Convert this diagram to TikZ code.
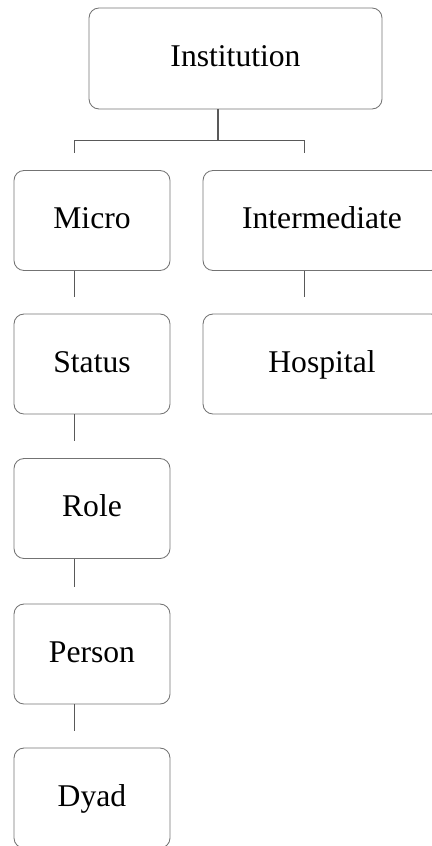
\documentclass[tikz,border=0pt]{standalone}
\usepackage{fontspec}
\setmainfont{Liberation Serif}
\usepackage{tikz}
\tikzset{level/.style={
	rectangle,
	rounded corners=2mm,
	draw=black!55,
	line width=0.5pt,
	minimum width=3.12cm,
	minimum height=2cm,
	text height=2.2ex,
	text depth=0.2ex,
	align=center,
	font=\fontsize{18}{20}\selectfont
}}

\begin{document}
\begin{tikzpicture}[
	link/.style={draw=black!65, line width=0.6pt, shorten >=3.4mm},
	wide/.style={minimum width=4.76cm}
]
\useasboundingbox (0,0) rectangle (8.62,-16.92);
\node[level, minimum width=5.86cm, minimum height=2.02cm] (inst) at (4.71,-1.17) {Institution};
\node[level] (micro) at (1.84,-4.41) {Micro};
\node[level, wide] (inter) at (6.44,-4.41) {Intermediate};
\node[level] (status) at (1.84,-7.28) {Status};
\node[level, wide] (hosp) at (6.44,-7.28) {Hospital};
\node[level] (role) at (1.84,-10.17) {Role};
\node[level] (person) at (1.84,-13.08) {Person};
\node[level] (dyad) at (1.84,-15.96) {Dyad};

\draw[link] ([xshift=-3.5mm]inst.south) -- ++(0,-0.62) -| ([xshift=-3.5mm]micro.north);
\draw[link] ([xshift=-3.5mm]inst.south) -- ++(0,-0.62) -| ([xshift=-3.5mm]inter.north);
\draw[link] ([xshift=-3.5mm]micro.south) -- ([xshift=-3.5mm]status.north);
\draw[link] ([xshift=-3.5mm]inter.south) -- ([xshift=-3.5mm]hosp.north);
\draw[link] ([xshift=-3.5mm]status.south) -- ([xshift=-3.5mm]role.north);
\draw[link] ([xshift=-3.5mm]role.south) -- ([xshift=-3.5mm]person.north);
\draw[link] ([xshift=-3.5mm]person.south) -- ([xshift=-3.5mm]dyad.north);
\end{tikzpicture}
\end{document}
